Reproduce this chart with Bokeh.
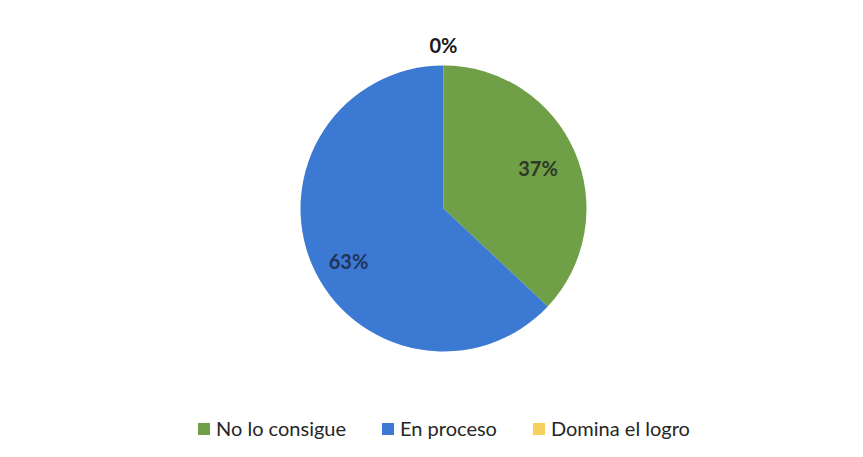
import math
from bokeh.plotting import figure
from bokeh.models import Range1d, ColumnDataSource, Legend, LegendItem
from bokeh.embed import file_html
from bokeh.resources import INLINE

categories = ["No lo consigue", "En proceso", "Domina el logro"]
values = [37, 63, 0]
colors = ["#6f9f47", "#3c79d2", "#f6cf5c"]
labels = ["37%", "63%", "0%"]

W, H = 847, 441
cx, cy, r = 443, 233, 143
label_radius = [0.72, 0.76, 1.14]
label_shift = [0.0, 0.10, 0.0]  # small angular nudge (radians)

total = sum(values)
starts, ends, lx, ly = [], [], [], []
cum = 0.0
for i, v in enumerate(values):
    a0 = math.pi / 2 - 2 * math.pi * cum / total
    cum += v
    a1 = math.pi / 2 - 2 * math.pi * cum / total
    starts.append(a0)
    ends.append(a1)
    mid = (a0 + a1) / 2 + label_shift[i]
    rr = label_radius[i] * r
    lx.append(cx + rr * math.cos(mid))
    ly.append(cy + rr * math.sin(mid))

src = ColumnDataSource(dict(lx=lx, ly=ly, lab=labels,
                            tcol=["#2e3a25", "#22345a", "#1a1a1a"]))

p = figure(width=W, height=H, output_backend="svg", toolbar_location=None,
           x_range=Range1d(0, W), y_range=Range1d(0, H), min_border=0,
           outline_line_color=None)
p.axis.visible = False
p.grid.visible = False
p.background_fill_color = "white"

renderers = []
for i in range(len(values)):
    view_src = ColumnDataSource(dict(x=[cx], y=[cy], s=[starts[i]], e=[ends[i]]))
    rd = p.wedge(x="x", y="y", radius=r if values[i] > 0 else 0,
                 start_angle="s", end_angle="e",
                 direction="clock", fill_color=colors[i], line_color=None,
                 source=view_src)
    renderers.append(rd)

p.text(x="lx", y="ly", text="lab", source=src, text_align="center",
       text_baseline="middle", text_font_size="20px", text_font_style="bold",
       text_color="tcol", text_font={"value": "Lato"})

legend = Legend(items=[LegendItem(label=categories[i], renderers=[renderers[i]])
                       for i in range(len(values))],
                orientation="horizontal", location=(196, 1),
                glyph_width=15, glyph_height=15, label_standoff=5, spacing=34,
                padding=0, margin=0, border_line_alpha=0, background_fill_alpha=0,
                label_text_font="Lato", label_text_font_size="20px",
                label_text_color="#262626")
p.add_layout(legend, "center")

open("out.html", "w").write(file_html(p, INLINE))
